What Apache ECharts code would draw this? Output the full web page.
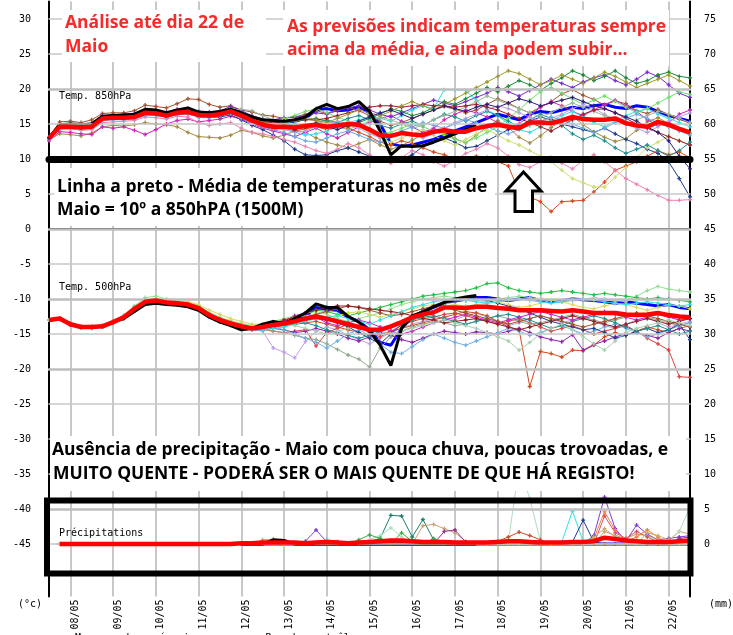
<!DOCTYPE html>
<html lang="pt">
<head>
<meta charset="UTF-8">
<title>Ensemble - Maio</title>
<script src="https://cdn.jsdelivr.net/npm/echarts@6/dist/echarts.min.js"></script>
<style>
  html, body { margin: 0; padding: 0; background: #fff; }
  #chart { width: 733px; height: 635px; }
</style>
</head>
<body>
<div id="chart"></div>
<script>
// eixo temporal: de 07/05 12h a 22/05 12h, passo de 6h
var days = ['07/05', '08/05', '09/05', '10/05', '11/05', '12/05', '13/05', '14/05',
            '15/05', '16/05', '17/05', '18/05', '19/05', '20/05', '21/05', '22/05'];
var hours = ['00h', '06h', '12h', '18h'];
var times = [];
days.forEach(function (d) { hours.forEach(function (h) { times.push(d + ' ' + h); }); });
times = times.slice(2, 63);

var gridLevels = [30, 25, 15, 10, 5, -5, -15, -25, -30, -35, -45];
var panelLevels = [20, 0, -10, -20, -40];
var refLevel = 10;

// Temp. 850hPa
var mean850 = [13.0,14.6,14.6,14.5,14.6,15.8,15.9,15.9,16.0,16.6,16.5,16.2,16.6,16.7,16.3,16.2,16.4,16.8,16.2,15.5,14.9,
  14.6,14.6,14.5,14.7,14.9,14.6,14.8,15.0,14.9,14.2,13.4,13.3,13.7,13.5,13.4,13.9,14.1,13.9,13.9,14.4,
  14.7,14.9,14.6,14.4,15.2,15.2,15.1,15.5,16.0,15.7,15.6,15.6,15.8,15.1,14.8,14.6,15.3,14.9,14.3,13.8];
var oper850 = [13.0,14.9,15.0,14.9,15.0,16.1,16.2,16.3,16.4,17.1,17.0,16.6,17.0,17.3,16.7,16.6,16.8,17.1,16.6,16.0,15.6,
  15.5,15.4,15.6,16.0,17.2,17.8,17.2,17.5,18.2,16.8,14.0,10.6,11.9,11.8,11.9,12.4,13.0,13.6,14.2,14.8];
var ctrl850 = [13.0,14.8,14.9,14.8,15.0,16.0,16.1,16.2,16.3,16.9,16.8,16.4,16.8,17.0,16.5,16.4,16.6,17.0,16.4,15.8,15.4,
  15.3,15.2,15.4,15.8,17.0,17.2,16.9,17.0,17.5,16.6,15.0,12.2,11.8,12.0,12.4,12.8,13.4,14.0,14.6,15.2,
  15.8,16.4,16.0,15.6,16.4,16.8,16.6,17.0,17.4,17.2,17.6,17.8,17.4,17.2,17.6,17.4,16.8,16.2,15.8,15.4];
var ens850 = [
  [13.1,15.3,15.4,15.2,15.6,16.5,16.6,16.6,16.9,17.7,17.5,17.3,17.9,18.6,18.5,17.8,17.4,17.6,17.0,16.7,16.3,
   16.1,15.8,16.0,16.4,16.9,16.5,17.1,17.4,16.9,16.2,15.4,14.8,15.2,15.8,16.4,17.0,17.5,17.1,16.6,17.0,
   17.8,18.6,18.0,17.2,16.6,17.4,18.2,19.3,19.9,19.1,18.5,17.7,18.3,17.9,16.9,16.5,17.1,16.3,15.7,15.1],
  [12.7,13.6,13.5,13.3,13.7,14.6,14.8,14.7,14.9,15.2,15.0,14.9,14.6,13.8,13.2,13.1,13.0,13.4,14.1,13.8,13.3,
   13.0,13.4,14.0,13.8,13.0,12.4,12.0,11.6,12.2,12.8,12.0,11.4,11.9,12.7,13.5,14.3,13.7,12.9,12.3,13.4,
   14.6,15.5,14.5,13.1,12.3,13.3,14.5,15.5,16.1,14.9,13.9,13.1,12.5,12.9,14.1,15.3,15.9,15.1,14.3,13.7],
  [12.6,13.9,13.8,13.6,13.5,14.6,14.4,14.6,14.1,13.5,14.2,15.0,15.5,15.7,15.3,15.5,15.7,16.1,15.7,15.0,14.4,
   14.0,13.6,13.2,13.8,14.4,13.6,13.0,13.8,14.6,15.2,15.8,16.2,15.4,14.6,13.8,14.4,15.6,16.4,17.0,16.6,
   16.0,15.2,14.6,15.0,16.2,17.4,18.2,17.6,16.8,16.2,17.0,17.8,18.4,17.6,16.8,15.6,14.8,15.2,16.4,17.0],
  [13.0,14.5,14.7,14.6,14.8,15.9,16.0,15.8,16.1,16.7,16.4,16.0,16.5,16.6,16.0,15.9,16.0,16.3,15.6,14.8,14.2,
   13.4,12.6,11.4,10.6,10.5,10.6,11.2,11.6,11.0,10.4,10.1,10.2,10.0,10.6,11.8,12.6,13.0,12.4,11.6,11.8,
   12.6,13.4,14.2,14.8,15.4,16.0,15.6,15.0,14.6,14.2,13.8,14.4,13.6,12.8,12.2,11.4,10.8,9.6,7.2,4.6],
  [13.0,14.4,14.5,14.3,14.4,15.6,15.7,15.8,15.8,16.4,16.3,16.0,16.4,16.5,16.1,16.0,16.2,16.5,15.9,15.2,14.6,
   14.2,14.4,14.0,14.3,14.6,14.2,14.5,14.4,13.8,13.2,12.4,12.0,12.6,12.2,11.6,11.0,10.6,10.0,9.8,10.4,
   10.2,9.6,9.0,5.3,4.6,3.9,2.5,3.9,4.0,4.1,5.3,6.7,8.4,9.0,9.6,10.4,11.2,10.6,11.0,10.2],
  [12.9,14.2,14.3,14.1,14.2,15.2,15.3,15.4,15.5,16.0,15.9,15.7,16.1,16.0,15.2,14.8,15.0,15.2,14.4,13.8,13.6,
   13.2,12.8,12.4,11.8,11.2,10.8,11.4,12.2,11.6,10.6,9.8,9.4,10.2,11.2,10.6,9.6,9.0,9.8,10.8,11.4,
   12.2,11.6,10.4,9.2,8.8,9.6,10.2,9.4,8.6,9.8,10.6,9.6,8.4,7.2,6.4,5.6,4.8,4.1,4.1,4.2],
  [13.0,14.9,15.0,14.9,15.1,16.2,16.3,16.4,16.5,17.1,17.0,16.7,17.1,17.2,16.8,16.7,16.9,17.5,16.9,16.2,15.7,
   15.6,15.9,16.0,16.2,16.6,16.4,16.9,17.3,17.6,17.0,16.4,16.0,16.6,17.2,17.8,18.4,18.0,17.6,18.2,18.8,
   19.4,20.2,19.6,19.0,19.8,20.6,21.4,20.8,20.2,21.0,21.6,22.0,21.2,20.6,21.4,22.4,21.8,20.6,19.4,18.8],
  [13.0,14.7,14.8,14.7,14.8,15.9,16.0,16.0,16.2,16.8,16.6,16.3,16.7,16.8,16.4,16.3,16.5,16.9,16.3,15.6,15.0,
   14.8,14.4,13.8,13.4,13.6,14.0,14.6,15.2,15.6,16.0,15.8,15.4,16.2,17.0,17.6,17.2,19.9,19.9,19.8,18.4,
   17.0,16.2,15.0,14.2,13.8,14.6,15.4,16.2,16.8,16.0,15.2,14.6,15.4,16.2,16.8,17.2,16.4,15.8,15.2,14.6],
  [13.0,14.8,14.8,14.7,14.9,16.0,16.1,16.1,16.2,16.9,16.8,16.4,16.8,17.0,16.6,16.5,16.7,17.2,16.5,15.9,15.4,
   15.2,15.0,15.4,15.6,15.8,15.4,15.0,14.6,15.2,15.8,16.4,17.2,16.8,16.2,16.6,17.4,18.2,17.8,18.6,19.4,
   20.2,19.6,20.4,21.2,20.6,19.8,20.8,21.6,22.6,22.0,21.2,21.8,22.6,21.6,20.8,21.2,22.0,22.4,21.8,21.6],
  [13.0,14.6,14.6,14.4,14.6,15.7,15.8,15.9,15.9,16.5,16.5,16.2,16.5,16.6,16.3,16.2,16.3,16.6,16.1,15.6,15.2,
   15.4,15.8,16.2,16.8,17.2,16.6,16.0,15.4,14.8,14.2,13.6,13.8,14.4,15.0,14.6,14.0,13.4,12.8,12.4,13.0,
   13.8,14.6,15.8,17.0,18.4,19.6,20.2,19.4,18.6,17.8,18.4,19.0,18.2,17.4,16.6,17.2,18.0,18.8,19.6,19.2],
  [13.0,14.5,14.6,14.5,14.5,15.6,15.7,15.7,15.9,16.4,16.3,16.1,16.4,16.5,16.2,16.1,16.2,16.6,16.0,15.4,14.8,
   14.4,14.2,14.6,15.0,14.8,14.4,14.8,15.2,14.6,13.8,13.0,12.4,13.0,13.6,14.2,13.4,12.6,12.0,12.8,13.6,
   14.2,13.4,12.6,12.0,11.2,10.4,9.6,8.4,7.2,6.6,6.0,6.0,7.4,8.8,10.2,11.6,12.4,13.2,12.6,12.0],
  [13.0,14.7,14.7,14.6,14.7,15.8,15.9,16.0,16.1,16.6,16.5,16.2,16.6,16.8,16.4,16.3,16.4,16.8,16.2,15.5,14.9,
   14.6,14.8,15.0,14.6,15.2,15.6,15.2,15.8,16.2,15.6,14.8,14.4,15.0,15.4,14.8,15.6,16.4,16.0,15.4,16.2,
   16.8,16.2,15.4,14.6,15.6,16.4,15.8,14.8,13.6,12.8,13.4,12.6,11.6,10.8,11.4,12.0,11.2,10.4,11.2,12.4],
  [13.0,14.6,14.5,14.4,14.5,15.6,15.7,15.7,15.8,16.3,16.3,16.1,16.4,16.5,16.1,16.0,16.2,16.6,16.0,15.3,14.7,
   14.4,14.2,13.8,14.0,14.6,15.0,15.4,15.0,14.4,13.6,13.0,13.4,14.0,13.6,13.0,13.6,14.4,15.2,15.8,16.4,
   17.0,17.6,17.2,16.6,16.0,15.4,15.8,16.4,17.2,17.8,17.2,16.4,15.6,15.0,14.4,13.8,14.6,15.4,16.0,16.6],
  [13.0,14.6,14.7,14.6,14.7,15.8,15.9,16.0,16.0,16.6,16.6,16.3,16.6,16.7,16.3,16.2,16.4,17.0,17.1,16.9,16.2,
   15.6,15.2,15.4,15.8,15.4,15.0,14.6,14.2,14.8,15.4,16.0,15.6,15.0,14.4,14.8,15.6,16.2,16.8,17.4,18.2,
   19.0,18.4,17.8,17.2,16.6,16.0,16.6,17.4,18.0,17.4,16.8,16.2,15.6,15.0,15.6,16.2,16.8,16.4,15.8,15.2],
  [13.0,14.7,14.8,14.7,14.8,15.9,16.0,16.0,16.1,16.8,16.7,16.3,16.7,16.9,16.4,16.3,16.5,16.9,16.3,15.7,15.2,
   15.2,15.4,15.6,15.6,15.6,15.8,16.2,16.6,17.0,17.4,17.6,17.6,17.4,17.6,17.8,17.6,17.6,17.4,17.6,17.8,
   17.4,17.0,16.4,15.8,15.2,14.6,14.0,14.8,15.6,16.4,17.0,17.2,16.6,15.8,15.0,14.4,13.8,13.2,12.6,12.0],
  [13.0,14.5,14.5,14.4,14.5,15.5,15.6,15.6,15.7,16.2,16.2,16.0,16.3,16.4,16.0,15.9,16.1,16.5,15.8,15.1,14.6,
   14.2,13.8,13.2,12.6,12.4,13.0,13.6,14.0,13.4,12.8,12.4,13.2,14.0,14.6,15.2,14.8,14.4,15.0,15.6,15.2,
   14.6,14.0,13.6,14.2,14.8,15.4,16.0,15.6,15.0,14.4,13.8,14.4,15.2,15.8,16.4,15.8,15.2,14.6,14.0,13.4],
  [13.0,14.8,14.9,14.7,14.9,15.9,16.0,16.1,16.2,16.8,16.7,16.4,16.8,16.9,16.5,16.4,16.6,17.0,16.4,15.8,15.3,
   15.0,15.2,15.6,16.0,15.6,15.2,15.8,16.4,17.0,16.6,16.2,16.8,17.6,18.2,17.6,17.0,17.8,18.6,19.4,20.2,
   21.0,21.8,22.6,22.2,21.4,20.6,21.2,22.0,21.4,20.8,21.6,22.4,21.8,21.0,20.2,20.8,21.4,22.0,21.2,20.4],
  [13.0,14.6,14.7,14.6,14.7,15.8,15.9,15.9,16.0,16.6,16.5,16.2,16.6,16.7,16.3,16.2,16.4,16.8,16.2,15.5,15.0,
   14.8,14.6,14.2,14.6,15.0,14.6,14.2,14.8,15.4,16.0,16.6,17.0,16.4,15.8,16.4,17.0,17.6,17.2,16.8,17.4,
   17.8,17.4,18.0,18.6,18.2,17.6,18.0,18.4,18.8,18.2,17.6,17.2,16.6,16.0,15.4,14.6,13.8,12.6,10.4,8.6]
];

// Temp. 500hPa
var mean500 = [-13.0,-12.8,-13.6,-14.0,-14.0,-13.9,-13.3,-12.6,-11.4,-10.4,-10.2,-10.5,-10.6,-10.8,-11.3,-12.3,-13.0,-13.5,-13.9,-14.2,-14.0,
  -13.7,-13.5,-13.2,-12.8,-12.5,-12.8,-13.2,-13.6,-14.0,-14.4,-14.4,-13.9,-13.3,-12.6,-12.2,-11.9,-11.2,-11.2,-11.3,-11.1,
  -11.1,-11.3,-11.4,-11.6,-11.6,-11.6,-11.7,-11.8,-11.6,-11.8,-12.0,-12.0,-12.0,-12.2,-12.3,-12.2,-12.0,-12.3,-12.5,-12.6];
var oper500 = [-13.0,-12.8,-13.6,-14.0,-14.0,-13.9,-13.3,-12.8,-11.8,-10.8,-10.6,-10.8,-10.9,-11.1,-11.6,-12.6,-13.3,-13.8,-14.4,-14.2,-13.6,
  -13.2,-13.5,-12.8,-12.0,-10.7,-11.2,-11.2,-12.5,-13.3,-14.6,-16.6,-19.5,-14.2,-12.4,-11.9,-11.1,-10.5,-10.0,-9.7,-9.5];
var ctrl500 = [-13.0,-12.8,-13.6,-14.0,-14.0,-13.9,-13.3,-12.7,-11.6,-10.6,-10.4,-10.7,-10.8,-11.0,-11.5,-12.5,-13.2,-13.7,-14.2,-14.2,-13.8,
  -13.4,-13.3,-13.0,-12.4,-11.2,-11.5,-11.6,-12.6,-13.2,-14.4,-16.2,-16.6,-14.2,-12.6,-11.8,-11.2,-10.6,-10.2,-10.0,-9.8,
  -9.8,-10.0,-10.2,-10.0,-9.8,-10.2,-10.4,-10.2,-10.0,-10.1,-10.2,-10.4,-10.6,-10.4,-10.6,-10.8,-11.0,-10.8,-11.2,-11.4];
var ens500 = [
  [-13.0,-12.9,-13.7,-14.1,-14.2,-14.0,-13.5,-12.8,-11.6,-10.6,-10.4,-10.7,-10.8,-11.0,-11.6,-12.6,-13.3,-13.8,-14.2,-14.4,-14.6,
   -17.0,-17.6,-18.4,-16.1,-14.6,-14.0,-14.4,-15.2,-15.8,-16.4,-15.6,-14.8,-14.2,-13.6,-13.2,-12.8,-12.6,-13.0,-12.4,-12.0,
   -12.6,-13.2,-13.8,-13.4,-12.8,-12.4,-12.8,-13.4,-13.0,-12.6,-13.2,-13.8,-14.2,-13.6,-13.0,-12.6,-13.4,-14.0,-13.6,-13.2],
  [-13.0,-12.8,-13.5,-13.9,-13.9,-13.8,-13.2,-12.5,-11.3,-10.3,-10.1,-10.4,-10.5,-10.7,-11.2,-12.2,-12.9,-13.4,-13.8,-14.0,-14.3,
   -14.6,-14.8,-14.6,-14.4,-16.7,-14.8,-14.2,-13.6,-14.0,-14.8,-15.4,-14.6,-13.8,-13.2,-12.8,-12.6,-12.2,-12.0,-12.4,-12.8,
   -13.2,-13.6,-13.2,-12.8,-13.4,-14.0,-14.6,-14.2,-13.8,-14.4,-15.0,-14.6,-14.2,-13.8,-14.6,-15.6,-16.4,-17.3,-21.1,-21.2],
  [-13.0,-12.8,-13.6,-14.0,-14.1,-14.0,-13.4,-12.7,-11.5,-10.5,-10.3,-10.6,-10.7,-10.9,-11.4,-12.4,-13.1,-13.6,-14.0,-14.3,-14.2,
   -14.0,-13.8,-13.6,-13.4,-13.2,-13.6,-14.0,-14.4,-14.8,-15.2,-15.0,-14.6,-14.2,-13.8,-13.4,-13.0,-12.6,-12.2,-11.8,-12.0,
   -12.4,-13.2,-14.0,-14.4,-22.5,-17.5,-17.8,-18.3,-17.3,-17.4,-16.6,-15.4,-14.8,-15.2,-14.6,-14.0,-14.4,-14.8,-14.2,-13.8],
  [-13.0,-12.7,-13.5,-14.0,-14.0,-13.9,-13.4,-12.8,-11.6,-10.6,-10.4,-10.6,-10.8,-11.0,-11.5,-12.5,-13.2,-13.7,-14.0,-14.4,-14.4,
   -14.2,-14.4,-14.8,-14.6,-14.2,-14.6,-15.0,-15.6,-16.0,-15.4,-14.8,-15.2,-15.8,-16.2,-15.6,-15.0,-14.6,-14.8,-15.0,-14.7,
   -14.8,-15.0,-14.6,-14.2,-14.8,-15.4,-15.8,-16.1,-15.1,-17.3,-16.5,-16.0,-15.4,-15.0,-14.8,-15.2,-15.6,-14.8,-14.2,-14.6],
  [-13.0,-12.8,-13.6,-14.0,-14.0,-13.9,-13.3,-12.6,-11.4,-10.4,-10.2,-10.5,-10.6,-10.8,-11.3,-12.3,-13.0,-13.5,-13.9,-14.2,-14.4,
   -14.6,-14.8,-15.2,-15.6,-15.8,-16.4,-17.2,-18.0,-18.6,-19.7,-17.0,-15.4,-14.6,-14.0,-13.6,-13.2,-13.4,-13.8,-13.6,-13.2,
   -12.8,-12.4,-12.8,-13.2,-13.6,-13.4,-13.0,-12.6,-12.2,-12.6,-13.0,-13.4,-13.0,-12.6,-12.2,-12.6,-13.0,-13.4,-13.8,-13.4],
  [-13.0,-12.9,-13.7,-14.1,-14.1,-14.0,-13.4,-12.7,-11.5,-10.5,-10.3,-10.6,-10.7,-10.9,-11.4,-12.4,-13.1,-13.6,-14.0,-14.3,-14.2,
   -14.0,-14.4,-15.0,-15.6,-16.2,-17.0,-16.0,-15.0,-14.4,-15.2,-16.4,-17.6,-17.8,-16.8,-15.8,-15.0,-15.6,-16.2,-16.6,-16.0,
   -15.4,-14.8,-14.2,-14.6,-15.2,-14.8,-14.2,-13.8,-14.4,-15.0,-14.6,-14.0,-13.6,-14.2,-14.8,-15.4,-15.0,-14.4,-13.8,-13.4],
  [-13.0,-12.7,-13.5,-13.9,-13.9,-13.7,-13.1,-12.3,-11.0,-9.8,-9.6,-10.0,-10.3,-10.5,-10.9,-11.9,-12.6,-13.1,-13.5,-13.8,-13.6,
   -13.2,-12.8,-12.4,-12.0,-11.8,-12.2,-12.8,-13.2,-12.8,-12.4,-12.0,-11.4,-10.8,-10.4,-10.0,-9.8,-9.6,-9.8,-10.0,-10.2,
   -10.4,-10.0,-9.8,-9.6,-9.8,-10.0,-10.2,-10.4,-10.2,-10.0,-9.8,-10.0,-10.2,-10.4,-9.6,-8.8,-8.2,-8.6,-8.8,-9.0],
  [-13.0,-12.8,-13.6,-14.0,-14.0,-13.9,-13.3,-12.6,-11.3,-10.2,-10.0,-10.3,-10.5,-10.7,-11.2,-12.2,-12.9,-13.4,-13.8,-14.1,-13.8,
   -13.4,-13.0,-12.6,-12.0,-11.6,-11.8,-12.2,-12.4,-12.0,-11.6,-11.2,-10.8,-10.4,-10.0,-9.6,-9.4,-9.2,-9.0,-8.8,-8.4,
   -7.8,-7.7,-8.4,-8.8,-9.0,-9.2,-9.0,-8.8,-9.0,-9.2,-9.4,-9.2,-9.4,-9.6,-9.8,-10.0,-9.8,-10.0,-10.2,-10.4],
  [-13.0,-12.8,-13.6,-14.0,-14.0,-13.9,-13.3,-12.6,-11.4,-10.4,-10.2,-10.5,-10.6,-10.8,-11.3,-12.3,-13.0,-13.5,-13.9,-14.2,-14.0,
   -13.8,-13.6,-13.4,-13.0,-12.8,-13.0,-13.4,-14.0,-14.8,-15.6,-16.4,-15.0,-13.6,-12.4,-11.6,-11.0,-10.6,-10.4,-10.2,-10.0,
   -10.2,-10.6,-11.0,-11.4,-12.0,-12.6,-13.2,-13.6,-14.0,-14.4,-14.2,-14.8,-15.6,-15.2,-14.6,-14.2,-14.8,-14.4,-13.6,-15.8],
  [-13.0,-12.8,-13.6,-14.0,-14.0,-13.9,-13.2,-12.5,-11.2,-10.2,-10.0,-10.4,-10.5,-10.7,-11.2,-12.2,-12.9,-13.4,-13.8,-14.1,-14.0,
   -13.8,-13.8,-13.6,-13.4,-13.8,-14.4,-14.8,-15.2,-15.6,-15.2,-14.6,-14.0,-13.4,-13.0,-12.6,-12.4,-12.8,-13.2,-13.6,-13.2,
   -12.8,-12.4,-12.2,-12.6,-13.0,-13.6,-14.2,-13.8,-13.2,-12.8,-12.4,-12.8,-13.4,-14.0,-14.6,-14.2,-13.8,-14.4,-15.0,-14.6],
  [-13.0,-12.8,-13.6,-14.0,-14.0,-13.8,-13.2,-12.4,-11.2,-10.2,-10.0,-10.2,-10.3,-10.4,-10.8,-11.6,-12.2,-12.8,-13.2,-13.6,-13.6,
   -13.4,-13.0,-12.6,-12.4,-12.2,-12.6,-12.4,-12.0,-11.8,-12.2,-12.6,-12.2,-11.8,-11.4,-11.0,-10.8,-10.6,-10.8,-11.0,-10.8,
   -10.6,-10.4,-10.8,-11.2,-11.0,-10.6,-10.2,-10.4,-10.8,-11.2,-11.4,-11.0,-10.6,-10.8,-11.2,-11.6,-11.2,-10.8,-11.0,-11.4],
  [-13.0,-12.8,-13.6,-14.0,-14.0,-13.9,-13.3,-12.6,-11.4,-10.4,-10.2,-10.5,-10.6,-10.8,-11.3,-12.3,-13.0,-13.6,-14.0,-14.2,-14.1,
   -14.0,-13.2,-12.4,-12.0,-12.6,-13.4,-13.8,-13.4,-13.0,-13.4,-14.0,-14.6,-15.0,-14.6,-14.0,-13.4,-13.0,-12.6,-12.2,-12.6,
   -13.0,-13.4,-13.0,-12.6,-12.2,-11.8,-12.2,-12.6,-13.0,-12.6,-12.2,-11.8,-12.2,-12.6,-13.0,-12.6,-12.2,-12.6,-13.0,-12.8],
  [-13.0,-12.8,-13.6,-14.0,-14.0,-13.9,-13.3,-12.6,-11.4,-10.4,-10.2,-10.5,-10.6,-10.8,-11.3,-12.3,-13.0,-13.5,-13.9,-14.2,-14.0,
   -13.8,-13.4,-13.0,-12.6,-12.2,-11.8,-11.4,-11.0,-11.2,-11.6,-12.0,-12.4,-12.2,-11.8,-11.4,-11.0,-11.2,-11.6,-12.0,-12.4,
   -12.8,-13.2,-13.6,-13.2,-12.8,-12.4,-12.8,-13.2,-13.6,-14.0,-13.6,-13.2,-12.8,-12.4,-12.0,-12.4,-12.8,-13.2,-13.6,-14.0],
  [-13.0,-12.8,-13.6,-14.0,-14.0,-13.9,-13.3,-12.6,-11.4,-10.4,-10.2,-10.5,-10.6,-10.8,-11.3,-12.3,-13.0,-13.5,-13.9,-14.2,-14.0,
   -13.6,-13.0,-12.6,-12.0,-11.6,-11.2,-11.0,-11.0,-11.2,-11.4,-11.6,-11.8,-12.0,-12.4,-12.8,-13.0,-13.4,-13.2,-13.0,-12.8,
   -13.2,-13.6,-14.0,-14.4,-14.0,-13.6,-13.2,-12.8,-12.4,-12.8,-13.2,-13.6,-14.0,-13.6,-13.2,-12.8,-13.2,-13.6,-13.2,-12.8],
  [-13.0,-12.8,-13.6,-14.0,-14.0,-13.9,-13.3,-12.6,-11.4,-10.4,-10.2,-10.5,-10.6,-10.8,-11.3,-12.3,-13.0,-13.5,-14.0,-14.4,-14.4,
   -14.2,-14.0,-13.6,-13.2,-12.8,-12.6,-12.4,-12.8,-13.2,-13.6,-13.0,-12.4,-11.8,-11.2,-10.8,-10.4,-10.2,-10.0,-10.2,-10.4,
   -10.6,-10.4,-10.2,-10.0,-10.2,-10.4,-10.6,-10.4,-10.2,-10.0,-10.2,-10.4,-10.6,-10.8,-10.6,-10.4,-10.6,-10.8,-11.0,-10.8],
  [-13.0,-12.8,-13.6,-14.0,-14.0,-13.9,-13.3,-12.6,-11.4,-10.4,-10.2,-10.5,-10.6,-10.8,-11.3,-12.3,-13.0,-13.5,-13.9,-14.2,-14.0,
   -13.8,-13.6,-13.8,-14.2,-14.6,-15.0,-14.6,-14.2,-13.8,-14.2,-14.6,-15.0,-14.6,-14.2,-13.8,-13.4,-13.0,-13.4,-13.8,-14.2,
   -14.8,-15.4,-16.0,-17.3,-16.2,-15.0,-14.2,-13.6,-14.4,-15.4,-16.4,-17.3,-16.0,-14.8,-14.2,-13.8,-13.4,-13.0,-13.4,-13.8]
];

// Précipitations (mm)
var meanPrec = [null,0,0,0,0,0,0,0,0,0,0,0,0,0,0,0,0,0,0.1,0.1,0.2,
  0.2,0.2,0.2,0.1,0.2,0.3,0.2,0.1,0.2,0.3,0.4,0.5,0.5,0.4,0.3,0.3,0.3,0.2,0.2,0.2,
  0.2,0.3,0.4,0.4,0.3,0.2,0.2,0.2,0.3,0.3,0.4,0.9,0.7,0.5,0.4,0.3,0.3,0.3,0.4,0.5];
var operPrec = [null,null,null,null,null,null,null,null,null,null,null,null,null,null,null,null,null,null,
  0,0,0,0.6,0.5,0,0,0,0,0,0,0,0,0,0,0,0,0,0,0,0,0,0];
var ctrlPrec = [null,null,null,null,null,null,null,null,null,null,null,null,null,null,null,null,null,null,
  0,0,0,0,0,0,0,0,0,0,0,0,0,0,0,0,0,0,0,0,0,0,0,0,0,0,0,0,0,0,0,0,0,0,0,0,0,0,0,0,0,0,0];
var ensPrec = [
  [null,0,0,0,0,0,0,0,0,0, 0,0,0,0,0,0,0,0,0,0, 0,0,0,0,0.4,2.0,0.3,0,0,0, 0,0,0,0,0,0,0,0,0,0, 0,0,0,0,0,0,0,0,0,0, 0,1.2,6.7,2.2,0.4,2.7,1.4,0.6,0.8,1.0, 1.2],
  [null,0,0,0,0,0,0,0,0,0, 0,0,0,0,0,0,0,0,0,0, 0,0,0,0,0,0,0,0,0,0.2, 0.3,0.8,4.1,4.0,1.0,3.5,0.6,0,0,0, 0,0,0,0,0,0,0,0,0,0, 0,0,0,0,0,0,0,0,0,0, 0],
  [null,0,0,0,0,0,0,0,0,0, 0,0,0,0,0,0,0,0,0,0, 0.6,0.7,0.4,0,0,0,0,0,0,0, 0,0,0,0,0,2.6,2.8,2.2,1.6,0.4, 0,0,0,0,0,0,0,0,0,0, 0,0,1.8,1.2,0.8,1.4,1.2,0.6,0.4,1.8, 1.4],
  [null,0,0,0,0,0,0,0,0,0, 0,0,0,0,0,0,0,0,0,0, 0,0,0,0,0,0,0,0,0,0, 0,0,0,0,0,0,0,1.8,2.0,0.3, 0,0,0,0,0,0,0,0,0,0, 0,0,0,0,0,0,0,0,0,0.8, 1.0],
  [null,0,0,0,0,0,0,0,0,0, 0,0,0,0,0,0,0,0,0,0, 0,0,0,0,0,0,0,0,0,0, 0.6,1.2,2.3,1.0,0,0,0,0,0,0, 0,0,0,0.4,11,6.5,0.4,0,0,0, 0,0,0,0,0,0,0,0,0.6,1.8, 5.3],
  [null,0,0,0,0,0,0,0,0,0, 0,0,0,0,0,0,0,0,0,0, 0,0,0,0,0,0,0.6,0.4,0,0, 0,0,0,0,0,0,0,0,0,0, 0,0,0,0,0,0,0,0,0.3,4.7, 0.3,0,0,0,0,0,0,0,0,0, 0],
  [null,0,0,0,0,0,0,0,0,0, 0,0,0,0,0,0,0,0,0,0, 0,0,0,0,0,0,0,0,0,0, 0,0,0,0,0,0,0,0,0,0, 0,0,0,0,0,0,0,0,0,0.3, 3.4,0.3,0,0,0,0,0,0,0,0, 0],
  [null,0,0,0,0,0,0,0,0,0, 0,0,0,0,0,0,0,0,0,0, 0,0,0,0,0,0,0,0,0,0, 0,0,0,0,0,0,0,0,0,0, 0,0,0,0,0,0,0,0,0,0, 0,0,4.0,1.6,0.8,1.8,1.0,0.3,0,0, 0],
  [null,0,0,0,0,0,0,0,0,0, 0,0,0,0,0,0,0,0,0,0, 0,0,0,0,0,0,0,0,0,0.6, 1.3,0.8,0,1.6,0.4,0,0.8,0.3,0,0, 0,0,0,0,0,0,0,0,0,0, 0,0,0,0,0,0,0,0,0,0, 0],
  [null,0,0,0,0,0,0,0,0,0, 0,0,0,0,0,0,0,0,0,0, 0,0,0,0,0,0,0,0,0,0, 0,0,0,0,0,0,0,0,0,0, 0,0,0.4,1.0,1.7,1.2,0.6,0,0,0, 0,0,0,0,0,0,0,0,0,0, 0],
  [null,0,0,0,0,0,0,0,0,0, 0,0,0,0,0,0,0,0,0,0, 0,0,0,0,0,0,0,0,0,0, 0,0,0,0,0,0,0,0,0,0, 0,0,0,0,0,0,0,0,0,0, 0,0.8,4.6,2.0,0.4,1.0,2.0,1.0,0,0, 0],
  [null,0,0,0,0,0,0,0,0,0, 0,0,0,0,0,0,0,0,0,0, 0,0,0,0,0,0,0,0,0,0, 0,0,0,0,0,0,0,0,0,0, 0,0,0,0,0,0,0,0,0,0, 0,1.0,2.2,1.0,0.3,0,1.6,1.2,0.6,0, 0]
];

var col850 = ['#a0522d','#a08c40','#d020c0','#1a3c8c','#d84a1c','#ee82b4','#7a2ad0','#30e0e8','#1e8a3a',
              '#70e070','#d0dc70','#1c9090','#b8a0e0','#9cb89c','#a01c30','#6aa8e8','#9c9c30','#301c78'];
var col500 = ['#c0a0e8','#e04040','#d04a1c','#9020b0','#90a890','#70b0e8','#90e090','#20c040',
              '#1c3c8c','#1c9090','#d8d860','#d020c0','#a0522d','#901c20','#30e0e8','#a8d0b0'];
var colPrec = ['#8040d0','#1c8070','#c8a070','#903090','#b0dcc0','#30e0e8','#1c3c8c','#e05060',
               '#30b040','#c0502c','#f08040','#c0b070'];

var mono = 'DejaVu Sans Mono';
var bold = 'bold 17.5px "Open Sans"';
var plus = 'path://M1,0H2V1H3V2H2V3H1V2H0V1H1Z';

function isDay(i, v) { return v.slice(6) === '00h'; }
function showLeft(v) { return Math.abs(v % 5) < 1e-6 && v >= -45 && v <= 30 ? String(v) : ''; }
function showRight(v) { return Math.abs(v % 5) < 1e-6 && v >= 0 && v <= 75 ? String(v) : ''; }

function members(list, colors, axis) {
  return list.map(function (d, k) {
    return {
      type: 'line', name: 'ens' + axis + '_' + k, data: d, yAxisIndex: axis, z: 2,
      symbol: plus, symbolSize: 4, showAllSymbol: true, silent: true,
      lineStyle: { width: 1, color: colors[k] }, itemStyle: { color: colors[k] }
    };
  });
}
function main(name, d, color, width, axis, z) {
  return {
    type: 'line', name: name, data: d, yAxisIndex: axis, z: z, symbol: 'none', silent: true,
    lineStyle: { width: width, color: color }, itemStyle: { color: color }
  };
}
function levels(vals, color, width, z) {
  return {
    type: 'line', data: [], silent: true, z: z,
    markLine: {
      silent: true, symbol: 'none', label: { show: false }, animation: false,
      lineStyle: { color: color, width: width, type: 'solid', cap: 'round' },
      data: vals.map(function (v) { return { yAxis: v }; })
    }
  };
}
function box(x, y, w, h) {
  return { type: 'rect', z: 100, shape: { x: x, y: y, width: w, height: h }, style: { fill: '#fff' } };
}
function note(t, x, y, font, color, extra) {
  var st = { text: t, x: x, y: y, font: font, fill: color, verticalAlign: 'middle' };
  if (extra) { for (var k in extra) st[k] = extra[k]; }
  return { type: 'text', z: 101, style: st };
}

var series = [levels(gridLevels, '#c8c8c8', 1.5, 1), levels(panelLevels, '#bebebe', 2.5, 1)];
series.push(main('Run de contrôle', ctrl850, '#0000ff', 3, 0, 2));
series.push(main('Run de contrôle', ctrl500, '#0000ff', 3, 0, 2));
series.push(main('Run de contrôle', ctrlPrec, '#0000ff', 3, 1, 2));
series = series.concat(members(ens850, col850, 0), members(ens500, col500, 0), members(ensPrec, colPrec, 1));
series.push(main('oper850', oper850, '#000', 3, 0, 4));
series.push(main('oper500', oper500, '#000', 3, 0, 4));
series.push(main('operPrec', operPrec, '#000', 3, 1, 4));
series.push(main('Moyenne des scénarios', mean850, '#ff0000', 4.5, 0, 5));
series.push(main('Moyenne des scénarios', mean500, '#ff0000', 4.5, 0, 5));
series.push(main('Moyenne des scénarios', meanPrec, '#ff0000', 4.5, 1, 5));
series.push(levels([refLevel], '#000', 7, 6));

var shadow = { textShadowColor: 'rgba(230,150,0,0.75)', textShadowOffsetX: -1, textShadowBlur: 0 };

var chart = echarts.init(document.getElementById('chart'), null, { renderer: 'canvas' });
chart.setOption({
  animation: false,
  backgroundColor: '#fff',
  textStyle: { fontFamily: mono },
  grid: { left: 49, right: 43, top: 1.5, bottom: 38.5 },
  legend: {
    data: ['Moyenne des scénarios', 'Run de contrôle'],
    left: 33, top: 628, itemWidth: 32, itemHeight: 5, itemGap: 27, icon: 'rect',
    selectedMode: false,
    textStyle: { fontFamily: mono, fontSize: 10, color: '#000' }
  },
  xAxis: {
    type: 'category', data: times, boundaryGap: false,
    axisLine: { lineStyle: { color: '#000', width: 2 } },
    axisTick: { show: false },
    axisLabel: {
      interval: isDay, rotate: 90, margin: 3, fontFamily: mono, fontSize: 10, color: '#000',
      verticalAlign: 'top', formatter: function (v) { return v.slice(0, 5); }
    },
    splitLine: { show: true, interval: isDay, lineStyle: { color: '#c8c8c8', width: 2 } }
  },
  yAxis: [
    {
      type: 'value', position: 'left', min: -52.5, max: 32.5, interval: 2.5,
      axisLine: { show: true, lineStyle: { color: '#000', width: 2 } },
      axisTick: { show: false }, splitLine: { show: false },
      axisLabel: { formatter: showLeft, margin: 18, fontFamily: mono, fontSize: 10, color: '#000' }
    },
    {
      type: 'value', position: 'right', min: -7.5, max: 77.5, interval: 2.5,
      axisLine: { show: true, lineStyle: { color: '#000', width: 2 } },
      axisTick: { show: false }, splitLine: { show: false },
      axisLabel: { formatter: showRight, margin: 14, fontFamily: mono, fontSize: 10, color: '#000' }
    }
  ],
  series: series,
  graphic: [
    box(62, 10, 204, 52),
    box(283, 10, 386, 56),
    box(54, 168, 441, 58),
    box(50, 436, 636, 55),
    note('Análise até dia 22 de', 65, 23, bold, '#f52a2a'),
    note('Maio', 65, 47, bold, '#f52a2a'),
    note('As previsões indicam temperaturas sempre', 287, 27, bold, '#f52a2a'),
    note('acima da média, e ainda podem subir...', 287, 50, bold, '#f52a2a'),
    note('Linha a preto - Média de temperaturas no mês de', 57, 187, bold, '#000'),
    note('Maio = 10º a 850hPA (1500M)', 57, 210, bold, '#000'),
    note('Ausência de precipitação - Maio com pouca chuva, poucas trovoadas, e', 52, 450, bold, '#000', shadow),
    note('MUITO QUENTE - PODERÁ SER O MAIS QUENTE DE QUE HÁ REGISTO!', 53, 474, bold, '#000', shadow),
    {
      type: 'polygon', z: 102,
      shape: { points: [[523.5, 172], [541, 191], [532.5, 191], [532.5, 211.5], [515, 211.5], [515, 191], [506, 191]] },
      style: { fill: '#fff', stroke: '#000', lineWidth: 3 }
    },
    {
      type: 'rect', z: 102, shape: { x: 47, y: 500.5, width: 643.5, height: 73 },
      style: { fill: 'none', stroke: '#000', lineWidth: 6 }
    },
    note('Temp. 850hPa', 59, 96, '10px "DejaVu Sans Mono"', '#000'),
    note('Temp. 500hPa', 59, 287, '10px "DejaVu Sans Mono"', '#000'),
    note('Précipitations', 59, 533, '10px "DejaVu Sans Mono"', '#000'),
    note('(°c)', 18, 604, '10px "DejaVu Sans Mono"', '#000'),
    note('(mm)', 709, 604, '10px "DejaVu Sans Mono"', '#000')
  ]
});
</script>
</body>
</html>
